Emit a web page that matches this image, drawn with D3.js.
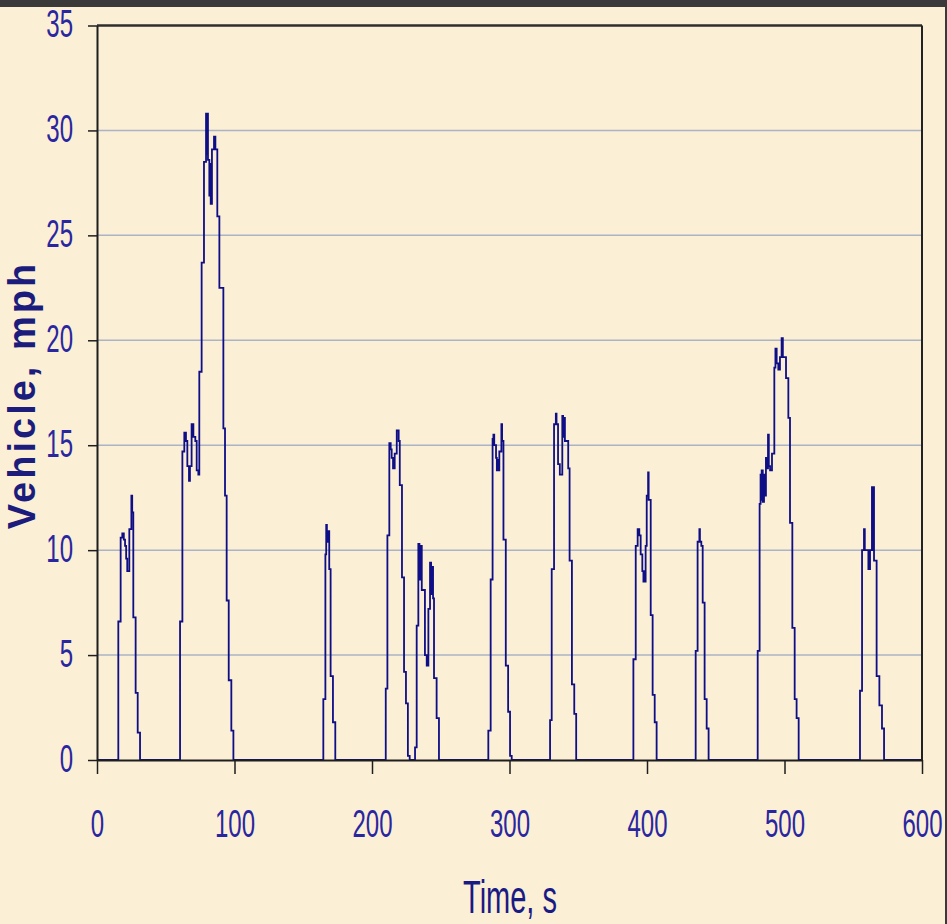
<!DOCTYPE html>
<html>
<head>
<meta charset="utf-8">
<script src="https://cdn.jsdelivr.net/npm/d3@7/dist/d3.min.js"></script>
<style>
  html, body { margin: 0; padding: 0; background: #fbefd6; }
  svg { display: block; }
</style>
</head>
<body>
<svg id="chart" width="947" height="924"></svg>
<script>

// axis ticks
var xTicks = [0, 100, 200, 300, 400, 500, 600];
var yTicks = [0, 5, 10, 15, 20, 25, 30, 35];
var gridTicks = [5, 10, 15, 20, 25, 30];

// each trip: [time s, speed mph] corners
var trip1 = [[15.5, 6.6], [17.2, 10.6], [18.4, 10.8], [19.5, 10.5], [20.4, 10.2], [21.2, 9.6], [22.0, 9.0],
  [23.5, 11.0], [25.0, 12.6], [25.6, 11.8], [26.4, 6.8], [28.1, 3.2], [29.6, 1.3], [31.3, 0]];
var trip2 = [[60.4, 6.6], [62.1, 14.7], [63.5, 15.6], [64.7, 15.2], [65.7, 14.0], [66.9, 13.3], [67.6, 14.0],
  [68.8, 16.0], [70.1, 15.4], [71.5, 15.2], [72.5, 13.8], [73.7, 13.6], [74.4, 18.5], [76.1, 23.7],
  [77.8, 28.5], [79.3, 30.8], [79.8, 28.9], [80.2, 30.8], [80.7, 28.6], [81.7, 26.9], [82.2, 28.4],
  [82.7, 26.5], [83.6, 29.1], [85.1, 29.7], [86.1, 29.1], [87.5, 25.9], [89.0, 22.5], [91.9, 15.8],
  [93.1, 12.6], [94.3, 7.6], [95.8, 3.8], [97.7, 1.4], [99.2, 0]];
var trip3 = [[164.6, 2.9], [166.1, 9.8], [166.7, 11.2], [167.2, 10.4], [168.0, 10.9], [168.9, 9.1],
  [169.9, 4.0], [171.6, 1.8], [173.3, 0]];
var trip4 = [[210.0, 3.4], [211.2, 10.7], [212.6, 15.1], [213.6, 14.8], [214.3, 14.4], [215.3, 13.9],
  [216.5, 14.6], [218.0, 15.7], [219.4, 15.2], [220.2, 13.1], [221.8, 8.7], [223.3, 4.2], [224.7, 2.7],
  [226.1, 0.2], [227.4, 0]];
var trip5 = [[231.3, 0.6], [232.5, 6.4], [233.7, 10.3], [234.5, 8.6], [235.4, 10.2], [236.2, 8.1],
  [238.5, 5.0], [239.8, 4.5], [241.0, 7.2], [242.2, 9.4], [243.0, 7.9], [243.6, 9.2], [244.4, 7.7],
  [245.1, 3.9], [247.0, 2.0], [248.7, 0]];
var trip6 = [[284.6, 1.4], [286.3, 8.6], [287.7, 15.3], [288.3, 15.5], [288.9, 15.0], [290.2, 14.4],
  [290.8, 13.8], [291.2, 14.3], [291.8, 13.8], [292.6, 14.7], [294.1, 16.0], [294.6, 15.2], [295.6, 10.5],
  [297.3, 4.5], [299.0, 2.3], [300.4, 0.2], [301.6, 0]];
var trip7 = [[329.5, 1.9], [330.7, 9.1], [332.4, 16.0], [333.7, 16.5], [334.2, 16.0], [335.3, 14.1],
  [336.6, 13.6], [338.4, 16.4], [339.0, 15.4], [339.6, 16.3], [340.3, 15.2], [342.7, 13.9], [343.7, 9.5],
  [345.4, 3.6], [347.1, 2.2], [348.5, 0]];
var trip8 = [[390.1, 4.8], [391.8, 10.2], [393.2, 11.0], [394.4, 10.7], [395.4, 9.8], [396.6, 9.0],
  [397.4, 8.5], [397.8, 9.0], [398.3, 8.5], [399.0, 10.2], [399.8, 12.6], [400.8, 13.7], [401.2, 12.4],
  [402.7, 6.9], [404.1, 3.1], [405.6, 1.8], [407.0, 0]];
var trip9 = [[435.4, 5.2], [436.8, 10.4], [438.1, 11.0], [438.5, 10.4], [439.5, 10.2], [440.5, 7.5],
  [441.9, 2.9], [443.4, 1.5], [444.8, 0]];
var trip10 = [[480.5, 5.2], [481.9, 12.2], [482.6, 13.6], [483.0, 12.4], [483.4, 13.8], [484.2, 12.3],
  [485.1, 13.6], [485.8, 12.6], [486.5, 14.4], [487.3, 13.9], [488.0, 15.5], [488.6, 14.0], [489.5, 13.8],
  [490.9, 14.6], [492.6, 18.7], [493.4, 19.6], [494.3, 18.9], [495.5, 18.6], [496.7, 19.2], [497.9, 20.1],
  [498.8, 19.2], [499.6, 19.2], [501.1, 18.2], [502.8, 16.3], [504.0, 11.3], [505.7, 6.3], [507.4, 2.9],
  [508.8, 2.0], [510.3, 0]];
var trip11 = [[554.9, 3.3], [556.4, 10.0], [557.8, 11.0], [558.4, 10.0], [561.0, 9.1], [562.2, 10.0],
  [563.6, 13.0], [564.2, 10.0], [564.6, 13.0], [565.1, 9.5], [567.0, 4.0], [569.0, 2.6], [570.9, 1.5],
  [572.4, 0]];

var trips = [trip1, trip2, trip3, trip4, trip5, trip6, trip7, trip8, trip9, trip10, trip11];

var svg = d3.select('#chart');

var x = d3.scaleLinear().domain([0, 600]).range([97, 922]);
var y = d3.scaleLinear().domain([0, 35]).range([760, 25.5]);

var labelColor = '#2a26a0';
var stretch = 1.65;

// page frame: dark bands at top and right
svg.append('rect').attr('x', 0).attr('y', 0).attr('width', 947).attr('height', 924).attr('fill', '#fbefd6');
svg.append('rect').attr('x', 0).attr('y', 0).attr('width', 947).attr('height', 7).attr('fill', '#3a3a3a');
svg.append('rect').attr('x', 945).attr('y', 0).attr('width', 2).attr('height', 924).attr('fill', '#3a3a3a');

// gridlines
svg.append('g').selectAll('line').data(gridTicks).enter().append('line')
  .attr('x1', x(0)).attr('x2', x(600))
  .attr('y1', function(d){ return y(d); }).attr('y2', function(d){ return y(d); })
  .attr('stroke', '#aab4c6').attr('stroke-width', 1.5);

// speed trace
var series = [[0, 0]];
trips.forEach(function(trip){
  trip.forEach(function(p){ series.push(p); });
});
series.push([600, 0]);

var line = d3.line()
  .x(function(d){ return x(d[0]); })
  .y(function(d){ return y(d[1]); })
  .curve(d3.curveStepAfter);

svg.append('path').datum(series)
  .attr('d', line)
  .attr('fill', 'none')
  .attr('stroke', '#0e0e86')
  .attr('stroke-width', 1.8)
  .attr('stroke-linejoin', 'miter');

// top and right border
svg.append('line').attr('x1', x(0)).attr('x2', x(600)).attr('y1', y(35)).attr('y2', y(35))
  .attr('stroke', '#2e2e2e').attr('stroke-width', 2.5);
svg.append('line').attr('x1', x(600)).attr('x2', x(600)).attr('y1', y(35)).attr('y2', y(0))
  .attr('stroke', '#222').attr('stroke-width', 2);

// x axis
var xAxis = svg.append('g')
  .attr('transform', 'translate(0,' + y(0) + ')')
  .call(d3.axisBottom(x).tickValues(xTicks).tickSize(14).tickSizeOuter(0).tickFormat(d3.format('d')));
xAxis.select('.domain').attr('stroke', '#1e1e1e').attr('stroke-width', 2);
xAxis.selectAll('.tick line').attr('stroke', '#1e1e1e').attr('stroke-width', 1.5);
xAxis.selectAll('.tick text')
  .attr('y', null).attr('dy', null)
  .attr('transform', 'translate(0,77) scale(1,' + stretch + ')')
  .attr('text-anchor', 'middle')
  .attr('fill', labelColor)
  .style('font-family', '"Liberation Sans", Arial, sans-serif')
  .style('font-size', '24px');

// y axis
var yAxis = svg.append('g')
  .attr('transform', 'translate(' + x(0) + ',0)')
  .call(d3.axisLeft(y).tickValues(yTicks).tickSize(9).tickSizeOuter(0).tickFormat(d3.format('d')));
yAxis.select('.domain').attr('stroke', '#1e1e1e').attr('stroke-width', 2);
yAxis.selectAll('.tick line').attr('stroke', '#1e1e1e').attr('stroke-width', 1.5);
yAxis.selectAll('.tick text')
  .attr('x', null).attr('dy', null)
  .attr('transform', 'translate(-24,11) scale(1,' + stretch + ')')
  .attr('text-anchor', 'end')
  .attr('fill', labelColor)
  .style('font-family', '"Liberation Sans", Arial, sans-serif')
  .style('font-size', '24px');

// axis titles
svg.append('text')
  .attr('transform', 'translate(510,913) scale(1,1.6)')
  .attr('text-anchor', 'middle')
  .attr('fill', '#1a1a84')
  .style('font-family', '"Liberation Sans", Arial, sans-serif')
  .style('font-size', '29px')
  .text('Time, s');

svg.append('text')
  .attr('transform', 'translate(35,395) rotate(-90)')
  .attr('text-anchor', 'middle')
  .attr('fill', '#1c1c7c')
  .style('font-family', '"Liberation Sans", Arial, sans-serif')
  .style('font-size', '38px')
  .style('font-weight', 'bold')
  .style('letter-spacing', '3px')
  .text('Vehicle, mph');

</script>
</body>
</html>
